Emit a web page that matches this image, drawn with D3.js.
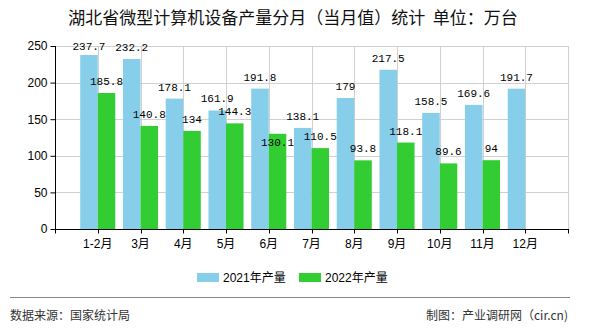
<!DOCTYPE html>
<html><head><meta charset="utf-8">
<script src="https://cdn.jsdelivr.net/npm/d3@7"></script>
<style>body{margin:0;background:#fff;}svg{display:block;}</style>
</head><body>
<svg id="c" width="590" height="330"></svg>
<script>
const categories = ["1-2月","3月","4月","5月","6月","7月","8月","9月","10月","11月","12月"];
const values2021 = [237.7,232.2,178.1,161.9,191.8,138.1,179,217.5,158.5,169.6,191.7];
const values2022 = [185.8,140.8,134,144.3,130.1,110.5,93.8,118.1,89.6,94,null];
const seriesNames = ["2021年产量","2022年产量"];
const seriesColors = ["#87CEEB","#32CD32"];
const yTicks = [0,50,100,150,200,250];
const titleText = "湖北省微型计算机设备产量分月（当月值）统计  单位：万台";
const sourceText = "数据来源：国家统计局";
const creditText = "制图：产业调研网（cir.cn)";

const svg = d3.select("#c");
const L = 55, R = 568, T = 46, B = 229;
const nSlots = categories.length + 1;
const x = d3.scaleLinear().domain([0, nSlots]).range([L, R]);
const y = d3.scaleLinear().domain([0, 250]).range([B, T]);
const bw = (x(1) - x(0)) * 0.41;
const sans = "Arial, 'Liberation Sans', 'Noto Sans CJK SC', sans-serif";

// title
svg.append("text").attr("x", 293).attr("y", 24).attr("text-anchor","middle")
  .style("white-space","pre")
  .attr("font-family","'Noto Sans CJK SC', sans-serif").attr("font-size",17).attr("fill","#111")
  .text(titleText);

// grid
const g = svg.append("g");
g.selectAll("line.h").data(yTicks).enter().append("line")
  .attr("x1", L).attr("x2", R).attr("y1", d=>Math.round(y(d))+0.5).attr("y2", d=>Math.round(y(d))+0.5)
  .attr("stroke","#d0d0d0");
g.selectAll("line.v").data(d3.range(1, nSlots+1)).enter().append("line")
  .attr("x1", d=>Math.round(x(d))+0.5).attr("x2", d=>Math.round(x(d))+0.5).attr("y1", T).attr("y2", B)
  .attr("stroke","#d0d0d0");

// bars
const data = categories.map((c,i)=>({c, i, a: values2021[i], b: values2022[i]}));
const bars = svg.append("g");
bars.selectAll("rect.a").data(data.filter(d=>d.a!=null)).enter().append("rect")
  .attr("x", d=>x(d.i+1)-bw).attr("width", bw).attr("y", d=>y(d.a)).attr("height", d=>y(0)-y(d.a))
  .attr("fill", seriesColors[0]);
bars.selectAll("rect.b").data(data.filter(d=>d.b!=null)).enter().append("rect")
  .attr("x", d=>x(d.i+1)).attr("width", bw).attr("y", d=>y(d.b)).attr("height", d=>y(0)-y(d.b))
  .attr("fill", seriesColors[1]);

// value labels with simple collision avoidance
const mono = "'Liberation Mono', 'DejaVu Sans Mono', monospace";
const labels = [];
data.forEach(d=>{ if (d.a!=null) labels.push({v:d.a, cx:x(d.i+1)-bw/2, by:Math.max(y(d.a)-8, 50)}); });
data.forEach(d=>{ if (d.b!=null) labels.push({v:d.b, cx:x(d.i+1)+bw/2, by:Math.max(y(d.b)-8, 50)}); });
const placed = [];
labels.forEach(l=>{
  const w = String(l.v).length * 6.6;
  l.x0 = l.cx - w/2; l.x1 = l.cx + w/2;
  const hits = () => placed.some(p => l.x0 < p.x1 && l.x1 > p.x0 && Math.abs(l.by - p.by) < 11);
  if (hits()) l.by += 20;
  placed.push(l);
});
const lab = svg.append("g").attr("font-family", mono).attr("font-size", 11).attr("fill","#000").attr("text-anchor","middle");
lab.selectAll("text").data(labels).enter().append("text")
  .attr("x", d=>d.cx).attr("y", d=>d.by).text(d=>d.v);

// axes
const yAxis = d3.axisLeft(y).tickValues(yTicks).tickSize(5).tickPadding(3);
const ya = svg.append("g").attr("transform", `translate(${L+0.5},0)`).call(yAxis);
ya.select(".domain").attr("stroke","#000").attr("d", `M0,${T}V${B+4}`);
ya.selectAll("text").attr("font-family", sans).attr("font-size", 12).attr("fill","#000");
ya.selectAll(".tick line").attr("stroke","#000");

const xa = svg.append("g").attr("transform", `translate(0,${B+0.5})`);
xa.append("line").attr("x1", L).attr("x2", R+1).attr("y1",0).attr("y2",0).attr("stroke","#000");
xa.selectAll("line.t").data(d3.range(0, nSlots+1)).enter().append("line")
  .attr("x1", d=>Math.round(x(d))+0.5).attr("x2", d=>Math.round(x(d))+0.5).attr("y1",0).attr("y2",4).attr("stroke","#000");
xa.selectAll("text").data(data).enter().append("text")
  .attr("x", d=>x(d.i+1)).attr("y", 18).attr("text-anchor","middle")
  .attr("font-family", sans).attr("font-size", 12).attr("fill","#000").text(d=>d.c);

// legend
const leg = svg.append("g");
const legX = [197, 299];
seriesNames.forEach((n,k)=>{
  leg.append("rect").attr("x", legX[k]).attr("y", 273).attr("width", 22).attr("height", 9).attr("fill", seriesColors[k]);
  leg.append("text").attr("x", legX[k]+26).attr("y", 282).attr("font-family", sans).attr("font-size", 12).attr("fill","#000").text(n);
});

// footer
svg.append("line").attr("x1",10).attr("x2",570).attr("y1",297.5).attr("y2",297.5).attr("stroke","#888");
svg.append("text").attr("x",10).attr("y",320).attr("font-family","'Noto Sans CJK SC', sans-serif").attr("font-size",12).attr("fill","#333").text(sourceText);
svg.append("text").attr("x",568).attr("y",320).attr("text-anchor","end").attr("font-family","'Noto Sans CJK SC', sans-serif").attr("font-size",12).attr("fill","#333").text(creditText);
</script>
</body></html>
